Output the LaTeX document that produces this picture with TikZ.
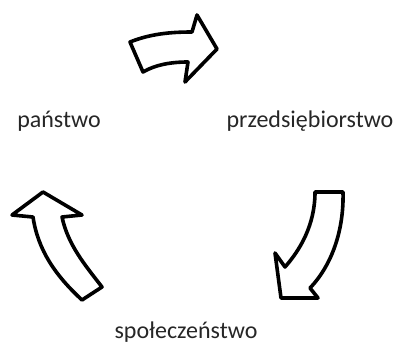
\documentclass[tikz,border=0pt]{standalone}
\usepackage{fontspec}
\setmainfont{Carlito}
\begin{document}
\begin{tikzpicture}[x=1pt,y=-1pt,
  bigarrow/.style={draw=black,fill=white,line width=3.6pt,line join=round},
  label/.style={font=\fontsize{24}{28}\selectfont,text=black!85,inner sep=0pt}]
\useasboundingbox (0,0) rectangle (398,345);

% labels
\node[label] (panstwo) at (59,121) {państwo};
\node[label] (przeds) at (310,121) {przedsiębiorstwo};
\node[label] (spol) at (186,332) {społeczeństwo};

% top arrow, pointing right
\draw[bigarrow] (130,42) .. controls (150,34) and (170,32) .. (192,32)
  -- (197,15) -- (217,49) -- (185,82) -- (188,62)
  .. controls (170,62) and (155,65) .. (143,72) -- cycle;

% right arrow, curving down to the left
\draw[bigarrow] (315,192) -- (343,192)
  .. controls (344,230) and (332,265) .. (310,288)
  -- (318,298) -- (281,298) -- (275,253) -- (285,267)
  .. controls (300,250) and (315,225) .. cycle;

% left arrow, curving up
\draw[bigarrow] (82,300) -- (102,287)
  .. controls (85,265) and (68,245) .. (62,217)
  -- (82,215) -- (43,192) -- (12,215) -- (33,217)
  .. controls (38,250) and (55,275) .. cycle;
\end{tikzpicture}
\end{document}
